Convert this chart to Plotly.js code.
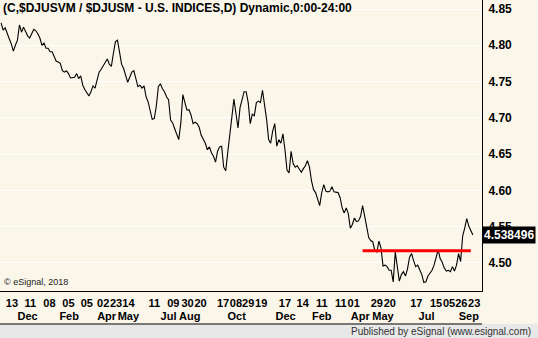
<!DOCTYPE html>
<html>
<head>
<meta charset="utf-8">
<script src="https://cdn.plot.ly/plotly-3.0.1.min.js"></script>
<style>
html,body{margin:0;padding:0;background:#FBF6EA;}
#chart{width:538px;height:338px;}
</style>
</head>
<body>
<div id="chart"></div>
<script>
// Ratio $DJUSVM / $DJUSM, one reading every 3 calendar days from 2016-10-28 to 2018-09-21
const seriesStart = "2016-10-28";
const stepDays = 3;
const ratio = [
4.831,4.821,4.824,4.815,4.809,4.802,4.792,4.800,4.807,4.828,
4.818,4.825,4.818,4.813,4.810,4.817,4.822,4.820,4.816,4.810,
4.800,4.803,4.796,4.796,4.791,4.791,4.783,4.778,4.777,4.775,
4.765,4.763,4.765,4.761,4.755,4.755,4.756,4.761,4.754,4.758,
4.745,4.739,4.734,4.730,4.736,4.744,4.741,4.752,4.763,4.767,
4.772,4.778,4.781,4.774,4.771,4.789,4.805,4.807,4.787,4.774,
4.768,4.759,4.749,4.756,4.763,4.765,4.754,4.743,4.745,4.741,
4.744,4.729,4.722,4.709,4.698,4.699,4.716,4.743,4.747,4.740,
4.736,4.729,4.725,4.697,4.693,4.685,4.677,4.670,4.693,4.732,
4.721,4.711,4.711,4.704,4.692,4.694,4.692,4.687,4.676,4.670,
4.665,4.656,4.660,4.652,4.647,4.639,4.654,4.660,4.661,4.632,
4.627,4.653,4.674,4.701,4.726,4.704,4.686,4.714,4.725,4.736,
4.736,4.721,4.692,4.705,4.703,4.721,4.723,4.721,4.738,4.721,
4.698,4.670,4.665,4.682,4.692,4.661,4.670,4.665,4.678,4.656,
4.628,4.624,4.654,4.637,4.632,4.634,4.630,4.625,4.630,4.634,
4.641,4.632,4.613,4.601,4.597,4.586,4.579,4.597,4.608,4.599,
4.598,4.599,4.605,4.598,4.597,4.597,4.590,4.576,4.569,4.576,
4.568,4.548,4.553,4.562,4.557,4.558,4.564,4.579,4.565,4.548,
4.535,4.531,4.529,4.517,4.515,4.530,4.521,4.496,4.497,4.495,
4.490,4.490,4.474,4.515,4.493,4.475,4.484,4.488,4.482,4.492,
4.508,4.513,4.503,4.495,4.497,4.490,4.484,4.473,4.474,4.482,
4.486,4.490,4.497,4.508,4.518,4.506,4.501,4.493,4.489,4.490,
4.488,4.495,4.489,4.497,4.513,4.502,4.537,4.548,4.561,4.551,
4.544,4.538496
];
const lastValue = 4.538496;

// Horizontal resistance line
const levelDates = ["2018-04-12", "2018-09-18"];
const levelValues = [4.517, 4.517];

// Axis labels
const yTicks = [4.50, 4.55, 4.60, 4.65, 4.70, 4.75, 4.80, 4.85];
const dayTickDates = ["2016-11-13","2016-12-10","2017-01-07","2017-02-04","2017-03-03","2017-03-27",
  "2017-04-15","2017-05-03","2017-06-10","2017-07-08","2017-07-29","2017-08-17","2017-09-19",
  "2017-10-08","2017-10-26","2017-11-14","2017-12-19","2018-01-14","2018-02-11","2018-03-11",
  "2018-03-30","2018-05-03","2018-05-22","2018-06-30","2018-07-29","2018-08-17","2018-09-04","2018-09-23"];
const dayTickText = ["13","11","08","05","05","02","23","14","11","09","30","20","17","08","29","19",
  "17","14","11","11","01","29","20","17","15","05","26","23"];
const monthTickDates = ["2016-12-06","2017-02-05","2017-04-01","2017-05-03","2017-07-01","2017-08-01",
  "2017-10-09","2017-12-20","2018-02-11","2018-04-08 12:00","2018-05-12","2018-07-15","2018-09-15"];
const monthTickText = ["Dec","Feb","Apr","May","Jul","Aug","Oct","Dec","Feb","Apr","May","Jul","Sep"];

const xRange = ["2016-10-26 10:00", "2018-10-04 10:00"];
const yRange = [4.4614, 4.8624];

const t0 = Date.parse(seriesStart + "T00:00:00Z");
const dates = ratio.map((v, i) => new Date(t0 + i * stepDays * 86400000).toISOString().slice(0, 10));

const FONT = "Liberation Sans, Arial, sans-serif";
const CREAM = "#FBF6EA";

const traces = [
  {x: dates, y: ratio, type: "scatter", mode: "lines",
   line: {color: "#000000", width: 1.1}, hoverinfo: "skip", xaxis: "x", yaxis: "y"},
  {x: levelDates, y: levelValues, type: "scatter", mode: "lines",
   line: {color: "#FF0000", width: 3}, hoverinfo: "skip", xaxis: "x2", yaxis: "y"}
];

const yTickFont = {family: FONT, size: 12, color: "#000", weight: "bold"};
const xTickFont = {family: FONT, size: 11, color: "#000", weight: "bold"};

const layout = {
  width: 538, height: 338,
  margin: {l: 0, r: 56, t: 0, b: 47, pad: 0},
  paper_bgcolor: CREAM, plot_bgcolor: CREAM,
  showlegend: false,
  font: {family: FONT, size: 12, color: "#000"},
  xaxis: {type: "date", range: xRange, tickvals: dayTickDates, ticktext: dayTickText,
    tickfont: xTickFont, tickangle: 0,
    showgrid: false, zeroline: false, showline: true, linecolor: "#000", linewidth: 1,
    ticks: "", ticklabelstandoff: 2, fixedrange: true},
  xaxis2: {type: "date", range: xRange, overlaying: "x", anchor: "y", side: "bottom",
    tickvals: monthTickDates, ticktext: monthTickText, tickfont: xTickFont, tickangle: 0,
    showgrid: false, zeroline: false, showline: false, ticks: "", ticklabelstandoff: 17, fixedrange: true},
  yaxis: {range: yRange, side: "right", tickvals: yTicks, tickformat: ".2f",
    tickfont: yTickFont,
    showgrid: true, gridcolor: "#FFFFFF", gridwidth: 1, zeroline: false,
    showline: true, linecolor: "#000", linewidth: 1, ticks: "", ticklabelstandoff: 3, fixedrange: true},
  shapes: [
    {type: "rect", xref: "paper", yref: "paper", x0: -0.01, x1: 1.2, y0: -0.17, y1: -0.1134,
     fillcolor: "#E8E8E8", line: {width: 0}, layer: "below"},
    {type: "line", xref: "paper", yref: "paper", x0: 0, x1: 1, y0: -0.1134, y1: -0.1134,
     line: {color: "#000", width: 1}}
  ],
  annotations: [
    {xref: "paper", yref: "paper", x: 0, y: 1, xanchor: "left", yanchor: "top", showarrow: false,
     xshift: 1, yshift: 1,
     text: "(C,$DJUSVM / $DJUSM - U.S. INDICES,D) Dynamic,0:00-24:00",
     font: {family: FONT, size: 12, color: "#000", weight: "bold"}},
    {xref: "paper", yref: "paper", x: 0, y: 0, xanchor: "left", yanchor: "bottom", showarrow: false,
     xshift: 2, yshift: 2, text: "© eSignal, 2018",
     font: {family: FONT, size: 9, color: "#222"}},
    {xref: "paper", yref: "y", x: 1, y: lastValue, xanchor: "left", yanchor: "middle", showarrow: false,
     text: String(lastValue), bgcolor: "#000", borderpad: 1,
     font: {family: FONT, size: 12, color: "#FFF", weight: "bold"}},
    {xref: "paper", yref: "paper", x: 1.105, y: -0.1375, xanchor: "right", yanchor: "middle", showarrow: false,
     text: "Published by eSignal (www.esignal.com)",
     font: {family: FONT, size: 10, color: "#333"}}
  ]
};

Plotly.newPlot("chart", traces, layout, {staticPlot: true, displayModeBar: false});
</script>
</body>
</html>
